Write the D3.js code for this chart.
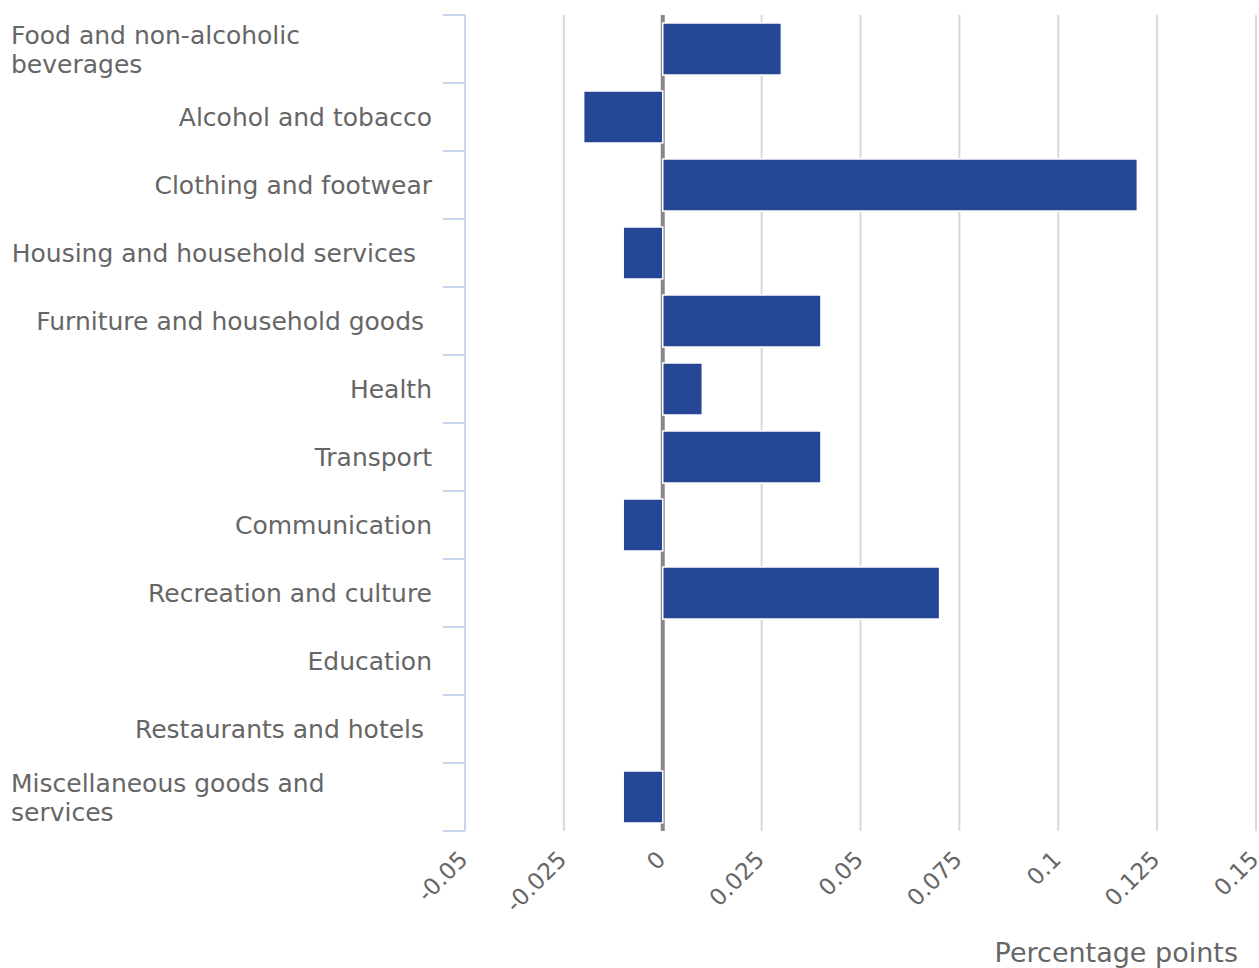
<!DOCTYPE html>
<html>
<head>
<meta charset="utf-8">
<script src="https://cdn.jsdelivr.net/npm/d3@7"></script>
<style>
  body { margin: 0; background: #fff; }
  text { font-family: "DejaVu Sans", sans-serif; fill: #666; white-space: pre; }
</style>
</head>
<body>
<svg id="chart" width="1259" height="968"></svg>
<script>
// categories (line breaks where the label wraps)
var categories = [
    ["Food and non-alcoholic", "beverages"],
    ["Alcohol and tobacco"],
    ["Clothing and footwear"],
    ["Housing and household services  "],
    ["Furniture and household goods "],
    ["Health"],
    ["Transport"],
    ["Communication"],
    ["Recreation and culture"],
    ["Education"],
    ["Restaurants and hotels "],
    ["Miscellaneous goods and", "services"]
];
var values = [0.03, -0.02, 0.12, -0.01, 0.04, 0.01, 0.04, -0.01, 0.07, 0, 0, -0.01];
var tickValues = [-0.05, -0.025, 0, 0.025, 0.05, 0.075, 0.1, 0.125, 0.15];

var names = categories.map(function (d) { return d.join(" "); });

var plotLeft = 465, plotRight = 1256, plotTop = 15, plotBottom = 831;

var svg = d3.select("#chart");

var x = d3.scaleLinear()
    .domain([-0.05, 0.15])
    .range([plotLeft, plotRight]);

var y = d3.scaleBand()
    .domain(names)
    .range([plotTop, plotBottom])
    .paddingInner(0.235)
    .paddingOuter(0.1175);

// gridlines
svg.append("g")
    .selectAll("line")
    .data(tickValues.filter(function (d) { return d !== 0 && d !== -0.05; }))
    .enter()
    .append("line")
    .attr("x1", function (d) { return x(d); })
    .attr("x2", function (d) { return x(d); })
    .attr("y1", plotTop)
    .attr("y2", plotBottom)
    .attr("stroke", "#d9d9d9")
    .attr("stroke-width", 2);

// zero line
svg.append("line")
    .attr("x1", x(0))
    .attr("x2", x(0))
    .attr("y1", plotTop)
    .attr("y2", plotBottom)
    .attr("stroke", "#888")
    .attr("stroke-width", 4);

// bars
svg.append("g")
    .selectAll("rect")
    .data(values)
    .enter()
    .append("rect")
    .attr("x", function (d) { return x(Math.min(0, d)); })
    .attr("y", function (d, i) { return y(names[i]); })
    .attr("width", function (d) { return Math.abs(x(d) - x(0)); })
    .attr("height", y.bandwidth())
    .attr("fill", "#264796")
    .attr("stroke", "#fff")
    .attr("stroke-width", 1.5);

// category axis line and ticks at band edges
var step = y.step();
var edges = d3.range(names.length + 1).map(function (i) {
    return plotTop + i * step;
});
svg.append("line")
    .attr("x1", plotLeft)
    .attr("x2", plotLeft)
    .attr("y1", plotTop)
    .attr("y2", plotBottom)
    .attr("stroke", "#c7d5ea")
    .attr("stroke-width", 2);
svg.append("g")
    .selectAll("line")
    .data(edges)
    .enter()
    .append("line")
    .attr("x1", plotLeft - 22)
    .attr("x2", plotLeft)
    .attr("y1", function (d) { return d; })
    .attr("y2", function (d) { return d; })
    .attr("stroke", "#c7d5ea")
    .attr("stroke-width", 2);

// category labels
var labels = svg.append("g")
    .selectAll("text")
    .data(categories)
    .enter()
    .append("text")
    .style("font-size", "25px")
    .attr("text-anchor", function (d) { return d.length > 1 ? "start" : "end"; })
    .attr("transform", function (d, i) {
        var cy = y(names[i]) + y.bandwidth() / 2;
        var tx = d.length > 1 ? 11 : 432;
        return "translate(" + tx + "," + cy + ")";
    });
labels.each(function (d) {
    var t = d3.select(this);
    d.forEach(function (line, k) {
        t.append("tspan")
            .attr("x", 0)
            .attr("y", (k - (d.length - 1) / 2) * 29 + 9)
            .text(line);
    });
});

// value axis tick labels
svg.append("g")
    .selectAll("text")
    .data(tickValues)
    .enter()
    .append("text")
    .style("font-size", "23px")
    .attr("text-anchor", "end")
    .attr("transform", function (d) {
        return "translate(" + (x(d) + 4) + "," + (plotBottom + 30) + ") rotate(-45)";
    })
    .text(function (d) { return String(d); });

// axis title
svg.append("text")
    .attr("x", 1238)
    .attr("y", 962)
    .attr("text-anchor", "end")
    .style("font-size", "27px")
    .text("Percentage points");
</script>
</body>
</html>
